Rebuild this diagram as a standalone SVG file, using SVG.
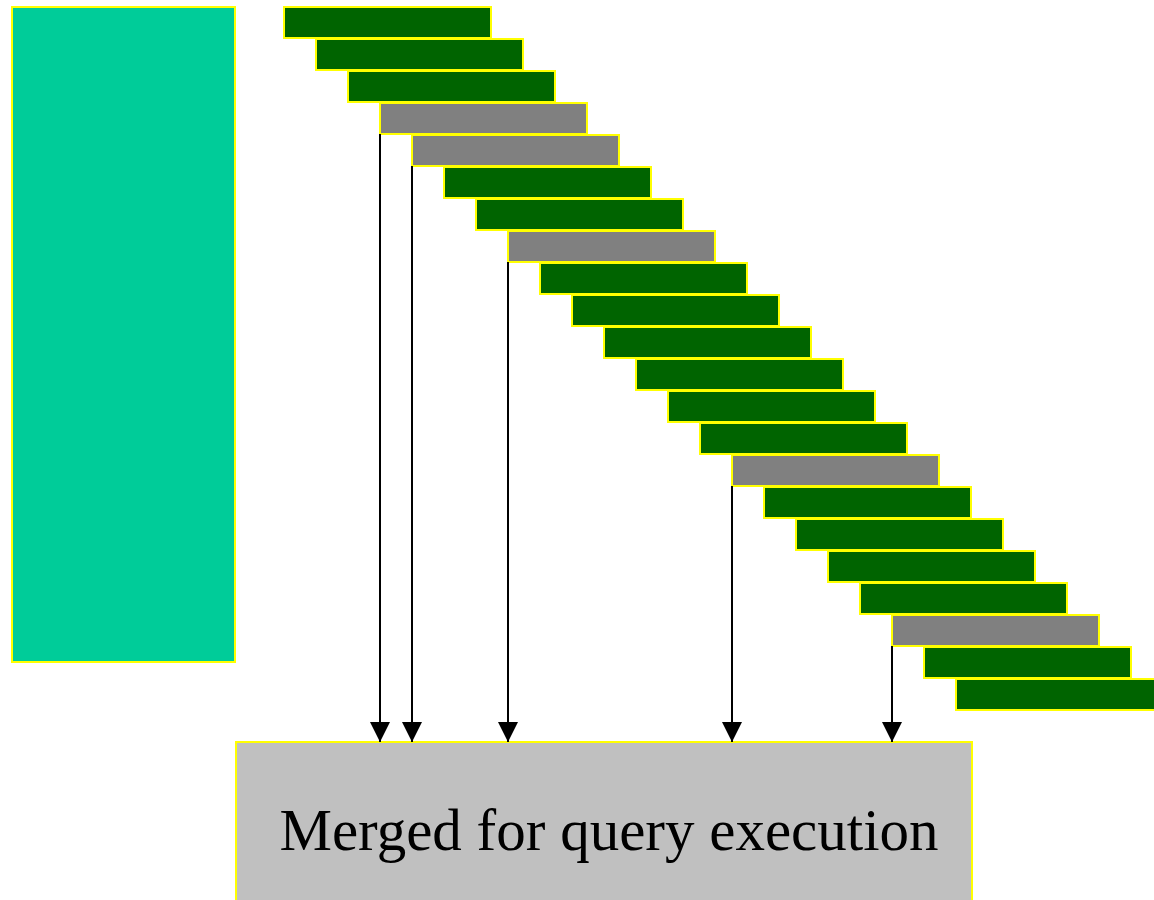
<svg xmlns="http://www.w3.org/2000/svg" width="1154" height="900" viewBox="0 0 1154 900">
<defs>
<style>
.bar{stroke:#FFFF00;stroke-width:2}
.g{fill:#006400}
.s{fill:#808080}
.conn line{stroke:#000;stroke-width:2}
.lbl{font-family:"Liberation Serif",serif;font-size:59px;fill:#000}
</style>
<marker id="ah" markerWidth="20" markerHeight="20" refX="20" refY="10" orient="auto" markerUnits="userSpaceOnUse" viewBox="0 0 20 20">
<path d="M0,0 L20,10 L0,20 Z" fill="#000"/>
</marker>
</defs>
<rect width="1154" height="900" fill="#fff"/>
<g id="left-block"><rect x="12" y="7" width="223" height="655" fill="#00CC99" stroke="#FFFF00" stroke-width="2"/></g>
<g id="bars">
<rect id="b0" class="bar g" x="284" y="7" width="207" height="31"/>
<rect id="b1" class="bar g" x="316" y="39" width="207" height="31"/>
<rect id="b2" class="bar g" x="348" y="71" width="207" height="31"/>
<rect id="b3" class="bar s" x="380" y="103" width="207" height="31"/>
<rect id="b4" class="bar s" x="412" y="135" width="207" height="31"/>
<rect id="b5" class="bar g" x="444" y="167" width="207" height="31"/>
<rect id="b6" class="bar g" x="476" y="199" width="207" height="31"/>
<rect id="b7" class="bar s" x="508" y="231" width="207" height="31"/>
<rect id="b8" class="bar g" x="540" y="263" width="207" height="31"/>
<rect id="b9" class="bar g" x="572" y="295" width="207" height="31"/>
<rect id="b10" class="bar g" x="604" y="327" width="207" height="31"/>
<rect id="b11" class="bar g" x="636" y="359" width="207" height="31"/>
<rect id="b12" class="bar g" x="668" y="391" width="207" height="31"/>
<rect id="b13" class="bar g" x="700" y="423" width="207" height="31"/>
<rect id="b14" class="bar s" x="732" y="455" width="207" height="31"/>
<rect id="b15" class="bar g" x="764" y="487" width="207" height="31"/>
<rect id="b16" class="bar g" x="796" y="519" width="207" height="31"/>
<rect id="b17" class="bar g" x="828" y="551" width="207" height="31"/>
<rect id="b18" class="bar g" x="860" y="583" width="207" height="31"/>
<rect id="b19" class="bar s" x="892" y="615" width="207" height="31"/>
<rect id="b20" class="bar g" x="924" y="647" width="207" height="31"/>
<rect id="b21" class="bar g" x="956" y="679" width="207" height="31"/>
</g>
<g id="merged">
<rect x="236" y="742" width="736" height="170" fill="#C0C0C0" stroke="#FFFF00" stroke-width="2"/>
<text class="lbl" x="609" y="850" text-anchor="middle">Merged for query execution</text>
</g>
<g id="connectors" class="conn">
<line x1="380" y1="134" x2="380" y2="742" marker-end="url(#ah)"/>
<line x1="412" y1="166" x2="412" y2="742" marker-end="url(#ah)"/>
<line x1="508" y1="262" x2="508" y2="742" marker-end="url(#ah)"/>
<line x1="732" y1="486" x2="732" y2="742" marker-end="url(#ah)"/>
<line x1="892" y1="646" x2="892" y2="742" marker-end="url(#ah)"/>
</g>
</svg>
